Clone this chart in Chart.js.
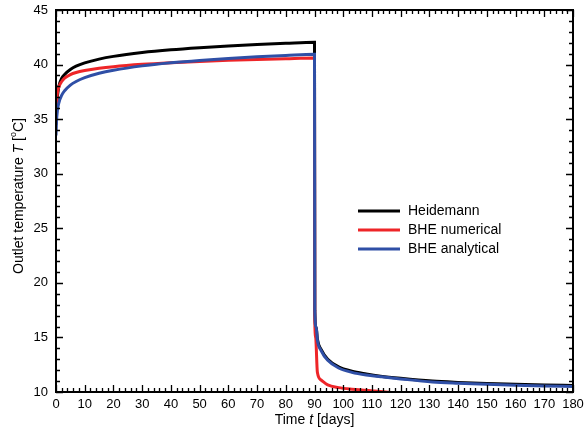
<!DOCTYPE html>
<html>
<head>
<meta charset="utf-8">
<script src="https://cdn.jsdelivr.net/npm/chart.js@4.4.0/dist/chart.umd.min.js"></script>
<style>
  html, body { margin: 0; padding: 0; background: #fff; }
</style>
</head>
<body>
<canvas id="chart" width="585" height="430"></canvas>
<script>
// values
const heidemannTime = [0, 0.2, 0.5, 1, 2, 3, 5, 7, 10, 15, 20, 30, 40, 50, 60, 70, 80, 90,
  90.1, 90.6, 91, 92.3, 94.6, 98.4, 103, 108, 113, 120, 131, 140, 150, 160, 170, 180];
const heidemannTemp = [34.5, 36.0, 37.1, 38.0, 38.75, 39.1, 39.55, 39.85, 40.15, 40.5, 40.75, 41.1, 41.35, 41.54, 41.7, 41.83, 41.95, 42.05,
  17.5, 15.9, 14.85, 13.9, 13.0, 12.3, 11.9, 11.65, 11.45, 11.25, 11.0, 10.88, 10.78, 10.7, 10.64, 10.6];

const numericalTime = [0, 0.2, 0.5, 1, 2, 3, 5, 7, 10, 15, 20, 30, 40, 50, 60, 70, 80, 90,
  90.1, 90.4, 91, 92.3, 94.6, 98.4, 103, 108, 113, 121];
const numericalTemp = [35.5, 36.6, 37.4, 37.95, 38.45, 38.75, 39.08, 39.27, 39.45, 39.66, 39.81, 40.02, 40.17, 40.29, 40.39, 40.47, 40.54, 40.6,
  16.5, 15.0, 11.8, 11.1, 10.65, 10.4, 10.25, 10.15, 10.05, 9.85];

const analyticalTime = [0, 0.2, 0.5, 1, 2, 3, 5, 7, 10, 15, 20, 30, 40, 50, 60, 70, 80, 90,
  90.1, 90.6, 91, 92.3, 94.6, 98.4, 103, 108, 113, 120, 131, 140, 150, 160, 170, 180];
const analyticalTemp = [33.5, 34.9, 35.8, 36.5, 37.2, 37.6, 38.12, 38.45, 38.8, 39.2, 39.48, 39.88, 40.16, 40.38, 40.56, 40.71, 40.84, 40.95,
  17.5, 15.9, 14.75, 13.8, 12.9, 12.2, 11.8, 11.55, 11.4, 11.2, 10.92, 10.8, 10.7, 10.62, 10.55, 10.5];

const seriesNames = ['Heidemann', 'BHE numerical', 'BHE analytical'];
const seriesColors = ['#000000', '#ee2528', '#2f4fa6'];

function toPoints(xs, ys) {
  return xs.map((x, i) => ({ x: x, y: ys[i] }));
}

const FONT = "'Liberation Sans', Arial, Helvetica, sans-serif";
Chart.defaults.font.family = FONT;
Chart.defaults.color = '#000';

// box with inward ticks on all sides, axis titles and legend
const framePlugin = {
  id: 'frame',
  afterDatasetsDraw(chart) {
    const ctx = chart.ctx;
    const a = chart.chartArea;
    const xs = chart.scales.x, ys = chart.scales.y;
    ctx.save();
    ctx.strokeStyle = '#000';
    ctx.lineWidth = 1.3;
    ctx.beginPath();
    for (let v = xs.min; v <= xs.max; v += 2) {
      const px = Math.round(xs.getPixelForValue(v)) + 0.5;
      const len = v % 10 === 0 ? 7 : 4;
      ctx.moveTo(px, a.bottom); ctx.lineTo(px, a.bottom - len);
      ctx.moveTo(px, a.top); ctx.lineTo(px, a.top + len);
    }
    for (let v = ys.min; v <= ys.max; v += 1) {
      const py = Math.round(ys.getPixelForValue(v)) + 0.5;
      const len = v % 5 === 0 ? 7 : 4;
      ctx.moveTo(a.left, py); ctx.lineTo(a.left + len, py);
      ctx.moveTo(a.right, py); ctx.lineTo(a.right - len, py);
    }
    ctx.stroke();
    ctx.lineWidth = 2;
    ctx.strokeRect(a.left, a.top, a.right - a.left, a.bottom - a.top);

    // legend
    ctx.font = '14px ' + FONT;
    ctx.textBaseline = 'middle';
    ctx.fillStyle = '#000';
    chart.data.datasets.forEach((ds, i) => {
      const y = 211 + i * 19;
      ctx.strokeStyle = ds.borderColor;
      ctx.lineWidth = 3;
      ctx.beginPath();
      ctx.moveTo(358, y); ctx.lineTo(400, y);
      ctx.stroke();
      ctx.fillText(ds.label, 408, y);
    });

    // x title: Time t [days]
    const parts = [['Time ', 'normal'], ['t', 'italic'], [' [days]', 'normal']];
    drawParts(ctx, parts, (a.left + a.right) / 2, 420);

    // y title, rotated
    ctx.save();
    ctx.translate(19, 196);
    ctx.rotate(-Math.PI / 2);
    drawParts(ctx, [['Outlet temperature ', 'normal'], ['T', 'italic'], [' [', 'normal'], ['o', 'sup'], ['C]', 'normal']], 0, 0);
    ctx.restore();
    ctx.restore();
  }
};

function drawParts(ctx, parts, cx, cy) {
  const fontFor = s => s === 'italic' ? 'italic 14px ' + FONT : (s === 'sup' ? '9px ' + FONT : '14px ' + FONT);
  let total = 0;
  parts.forEach(p => { ctx.font = fontFor(p[1]); total += ctx.measureText(p[0]).width; });
  let x = cx - total / 2;
  ctx.textBaseline = 'middle';
  ctx.textAlign = 'left';
  ctx.fillStyle = '#000';
  parts.forEach(p => {
    ctx.font = fontFor(p[1]);
    ctx.fillText(p[0], x, p[1] === 'sup' ? cy - 5 : cy);
    x += ctx.measureText(p[0]).width;
  });
}

const common = { pointRadius: 0, borderWidth: 3, fill: false, cubicInterpolationMode: 'monotone' };

new Chart(document.getElementById('chart'), {
  type: 'line',
  data: {
    datasets: [
      Object.assign({ label: seriesNames[0], data: toPoints(heidemannTime, heidemannTemp), borderColor: seriesColors[0], order: 3 }, common),
      Object.assign({ label: seriesNames[1], data: toPoints(numericalTime, numericalTemp), borderColor: seriesColors[1], order: 2 }, common),
      Object.assign({ label: seriesNames[2], data: toPoints(analyticalTime, analyticalTemp), borderColor: seriesColors[2], order: 1 }, common)
    ]
  },
  options: {
    responsive: false,
    animation: false,
    layout: { padding: { top: 10, right: 12, left: 0, bottom: 0 } },
    plugins: { legend: { display: false }, tooltip: { enabled: false } },
    scales: {
      x: {
        type: 'linear', min: 0, max: 180,
        grid: { display: false, drawTicks: false, tickLength: 0 }, border: { display: false },
        ticks: { stepSize: 10, font: { size: 13 }, padding: 5, maxRotation: 0 },
        afterFit: s => { s.height = 38; s.paddingLeft = 0; s.paddingRight = 0; }
      },
      y: {
        min: 10, max: 45,
        grid: { display: false, drawTicks: false, tickLength: 0 }, border: { display: false },
        ticks: { stepSize: 5, font: { size: 13 }, padding: 8 },
        afterFit: s => { s.width = 56; s.paddingTop = 0; s.paddingBottom = 0; }
      }
    }
  },
  plugins: [framePlugin]
});
</script>
</body>
</html>
